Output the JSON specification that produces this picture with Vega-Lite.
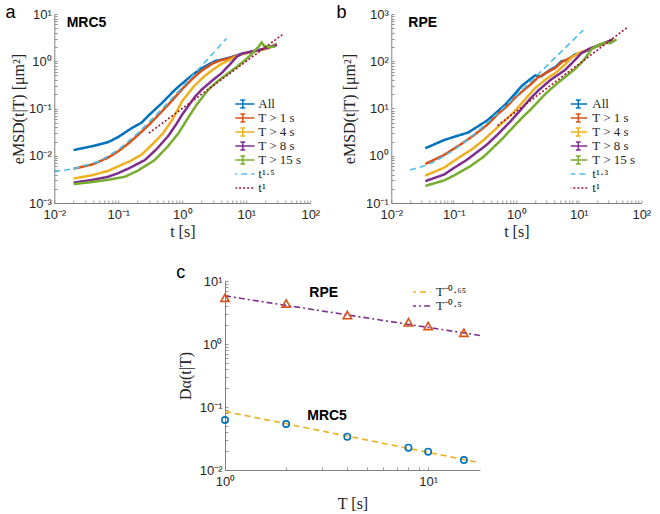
{
  "$schema": "https://vega.github.io/schema/vega-lite/v6.json",
  "background": "white",
  "padding": {"left": 5, "top": 4, "right": 5, "bottom": 3},
  "datasets": {
    "curvesA": [
      {"s":"All","t":0.02,"v":0.0132},{"s":"All","t":0.04,"v":0.016},{"s":"All","t":0.07,"v":0.0195},{"s":"All","t":0.1,"v":0.025},{"s":"All","t":0.16,"v":0.038},{"s":"All","t":0.23,"v":0.05},{"s":"All","t":0.3,"v":0.072},{"s":"All","t":0.48,"v":0.13},{"s":"All","t":0.77,"v":0.25},{"s":"All","t":1.0,"v":0.34},{"s":"All","t":1.4,"v":0.5},{"s":"All","t":2,"v":0.71},{"s":"All","t":3.2,"v":1.0},{"s":"All","t":5.3,"v":1.18},{"s":"All","t":8,"v":1.4},{"s":"All","t":11,"v":1.55},{"s":"All","t":15,"v":1.68},{"s":"All","t":22,"v":1.9},{"s":"All","t":30,"v":2.3},
      {"s":"T > 1 s","t":0.02,"v":0.0053},{"s":"T > 1 s","t":0.04,"v":0.0066},{"s":"T > 1 s","t":0.07,"v":0.0092},{"s":"T > 1 s","t":0.1,"v":0.0125},{"s":"T > 1 s","t":0.15,"v":0.019},{"s":"T > 1 s","t":0.2,"v":0.027},{"s":"T > 1 s","t":0.3,"v":0.045},{"s":"T > 1 s","t":0.5,"v":0.092},{"s":"T > 1 s","t":0.7,"v":0.15},{"s":"T > 1 s","t":1.0,"v":0.26},{"s":"T > 1 s","t":1.5,"v":0.45},{"s":"T > 1 s","t":2,"v":0.63},{"s":"T > 1 s","t":3,"v":0.9},{"s":"T > 1 s","t":4,"v":1.05},{"s":"T > 1 s","t":5.3,"v":1.15},{"s":"T > 1 s","t":8,"v":1.38},{"s":"T > 1 s","t":11,"v":1.53},{"s":"T > 1 s","t":15,"v":1.67},{"s":"T > 1 s","t":22,"v":1.9},{"s":"T > 1 s","t":30,"v":2.3},
      {"s":"T > 4 s","t":0.02,"v":0.0033},{"s":"T > 4 s","t":0.04,"v":0.0039},{"s":"T > 4 s","t":0.07,"v":0.0048},{"s":"T > 4 s","t":0.1,"v":0.006},{"s":"T > 4 s","t":0.15,"v":0.0076},{"s":"T > 4 s","t":0.23,"v":0.0105},{"s":"T > 4 s","t":0.35,"v":0.018},{"s":"T > 4 s","t":0.5,"v":0.03},{"s":"T > 4 s","t":0.7,"v":0.058},{"s":"T > 4 s","t":1.0,"v":0.145},{"s":"T > 4 s","t":1.5,"v":0.29},{"s":"T > 4 s","t":2.2,"v":0.48},{"s":"T > 4 s","t":3,"v":0.66},{"s":"T > 4 s","t":4.1,"v":0.88},{"s":"T > 4 s","t":5.9,"v":1.12},{"s":"T > 4 s","t":8,"v":1.38},{"s":"T > 4 s","t":11,"v":1.53},{"s":"T > 4 s","t":15,"v":1.67},{"s":"T > 4 s","t":22,"v":1.9},{"s":"T > 4 s","t":30,"v":2.3},
      {"s":"T > 8 s","t":0.02,"v":0.0027},{"s":"T > 8 s","t":0.04,"v":0.0031},{"s":"T > 8 s","t":0.07,"v":0.0036},{"s":"T > 8 s","t":0.1,"v":0.0043},{"s":"T > 8 s","t":0.15,"v":0.0055},{"s":"T > 8 s","t":0.26,"v":0.0081},{"s":"T > 8 s","t":0.4,"v":0.014},{"s":"T > 8 s","t":0.6,"v":0.026},{"s":"T > 8 s","t":0.8,"v":0.046},{"s":"T > 8 s","t":1.0,"v":0.075},{"s":"T > 8 s","t":1.58,"v":0.178},{"s":"T > 8 s","t":2,"v":0.25},{"s":"T > 8 s","t":3,"v":0.4},{"s":"T > 8 s","t":4.1,"v":0.56},{"s":"T > 8 s","t":5.5,"v":0.85},{"s":"T > 8 s","t":7.1,"v":1.25},{"s":"T > 8 s","t":8.5,"v":1.45},{"s":"T > 8 s","t":11.3,"v":1.58},{"s":"T > 8 s","t":15,"v":1.7},{"s":"T > 8 s","t":20,"v":1.9},{"s":"T > 8 s","t":30,"v":2.2},
      {"s":"T > 15 s","t":0.02,"v":0.0025},{"s":"T > 15 s","t":0.04,"v":0.0028},{"s":"T > 15 s","t":0.07,"v":0.0031},{"s":"T > 15 s","t":0.127,"v":0.0036},{"s":"T > 15 s","t":0.2,"v":0.0048},{"s":"T > 15 s","t":0.37,"v":0.0081},{"s":"T > 15 s","t":0.6,"v":0.016},{"s":"T > 15 s","t":0.87,"v":0.03},{"s":"T > 15 s","t":1.2,"v":0.06},{"s":"T > 15 s","t":1.67,"v":0.12},{"s":"T > 15 s","t":2.55,"v":0.25},{"s":"T > 15 s","t":3.5,"v":0.37},{"s":"T > 15 s","t":5.2,"v":0.556},{"s":"T > 15 s","t":7,"v":0.75},{"s":"T > 15 s","t":9.6,"v":1.06},{"s":"T > 15 s","t":12,"v":1.4},{"s":"T > 15 s","t":15.4,"v":2.0},{"s":"T > 15 s","t":17.4,"v":2.5},{"s":"T > 15 s","t":19,"v":2.1},{"s":"T > 15 s","t":22,"v":2.03},{"s":"T > 15 s","t":28,"v":2.03}
    ],
    "fitsA": [
      {"s":"t¹·⁵","t":0.01,"v":0.0046},{"s":"t¹·⁵","t":0.02,"v":0.0053},{"s":"t¹·⁵","t":0.05,"v":0.0076},{"s":"t¹·⁵","t":0.1,"v":0.0134},{"s":"t¹·⁵","t":0.2,"v":0.0296},{"s":"t¹·⁵","t":0.5,"v":0.103},{"s":"t¹·⁵","t":1,"v":0.284},{"s":"t¹·⁵","t":2,"v":0.8},{"s":"t¹·⁵","t":3,"v":1.46},{"s":"t¹·⁵","t":4,"v":2.24},{"s":"t¹·⁵","t":4.9,"v":3.05},
      {"s":"t¹","t":0.3,"v":0.03},{"s":"t¹","t":38,"v":3.8}
    ],
    "curvesB": [
      {"s":"All","t":0.035,"v":1.44},{"s":"All","t":0.07,"v":2.15},{"s":"All","t":0.1,"v":2.5},{"s":"All","t":0.17,"v":3.1},{"s":"All","t":0.35,"v":5.7},{"s":"All","t":0.66,"v":12},{"s":"All","t":1.0,"v":22},{"s":"All","t":1.22,"v":30},{"s":"All","t":1.6,"v":40},{"s":"All","t":2.0,"v":50},{"s":"All","t":2.5,"v":48},{"s":"All","t":3.25,"v":62},{"s":"All","t":4.2,"v":75},{"s":"All","t":5.3,"v":100},{"s":"All","t":6.5,"v":105},{"s":"All","t":8.7,"v":140},{"s":"All","t":11,"v":150},{"s":"All","t":15,"v":180},{"s":"All","t":20,"v":210},{"s":"All","t":28,"v":250},{"s":"All","t":35,"v":290},
      {"s":"T > 1 s","t":0.035,"v":0.67},{"s":"T > 1 s","t":0.07,"v":1.04},{"s":"T > 1 s","t":0.126,"v":1.7},{"s":"T > 1 s","t":0.2,"v":2.6},{"s":"T > 1 s","t":0.335,"v":4.4},{"s":"T > 1 s","t":0.5,"v":7.5},{"s":"T > 1 s","t":0.7,"v":11},{"s":"T > 1 s","t":1.0,"v":18},{"s":"T > 1 s","t":1.29,"v":24},{"s":"T > 1 s","t":1.68,"v":32},{"s":"T > 1 s","t":2.2,"v":45},{"s":"T > 1 s","t":2.54,"v":50},{"s":"T > 1 s","t":3.25,"v":60},{"s":"T > 1 s","t":4.2,"v":72},{"s":"T > 1 s","t":5.3,"v":95},{"s":"T > 1 s","t":7,"v":115},{"s":"T > 1 s","t":8.7,"v":135},{"s":"T > 1 s","t":11,"v":150},{"s":"T > 1 s","t":15,"v":180},{"s":"T > 1 s","t":20,"v":210},{"s":"T > 1 s","t":28,"v":250},{"s":"T > 1 s","t":35,"v":290},
      {"s":"T > 4 s","t":0.035,"v":0.38},{"s":"T > 4 s","t":0.07,"v":0.56},{"s":"T > 4 s","t":0.126,"v":0.95},{"s":"T > 4 s","t":0.2,"v":1.4},{"s":"T > 4 s","t":0.3,"v":2.15},{"s":"T > 4 s","t":0.5,"v":4.0},{"s":"T > 4 s","t":0.7,"v":6.0},{"s":"T > 4 s","t":1.0,"v":9.5},{"s":"T > 4 s","t":1.46,"v":17},{"s":"T > 4 s","t":2,"v":27},{"s":"T > 4 s","t":3,"v":42},{"s":"T > 4 s","t":4.2,"v":56},{"s":"T > 4 s","t":6,"v":85},{"s":"T > 4 s","t":7.7,"v":120},{"s":"T > 4 s","t":10,"v":150},{"s":"T > 4 s","t":15,"v":180},{"s":"T > 4 s","t":20,"v":210},{"s":"T > 4 s","t":28,"v":250},{"s":"T > 4 s","t":35,"v":290},
      {"s":"T > 8 s","t":0.035,"v":0.29},{"s":"T > 8 s","t":0.07,"v":0.4},{"s":"T > 8 s","t":0.1,"v":0.55},{"s":"T > 8 s","t":0.16,"v":0.81},{"s":"T > 8 s","t":0.335,"v":1.7},{"s":"T > 8 s","t":0.5,"v":2.8},{"s":"T > 8 s","t":0.79,"v":5.2},{"s":"T > 8 s","t":1.1,"v":8.5},{"s":"T > 8 s","t":1.66,"v":16},{"s":"T > 8 s","t":2.25,"v":24},{"s":"T > 8 s","t":3.5,"v":40},{"s":"T > 8 s","t":6,"v":65},{"s":"T > 8 s","t":8,"v":95},{"s":"T > 8 s","t":11.1,"v":150},{"s":"T > 8 s","t":15,"v":185},{"s":"T > 8 s","t":20,"v":215},{"s":"T > 8 s","t":28,"v":255},{"s":"T > 8 s","t":35,"v":290},
      {"s":"T > 15 s","t":0.035,"v":0.23},{"s":"T > 15 s","t":0.07,"v":0.3},{"s":"T > 15 s","t":0.1,"v":0.38},{"s":"T > 15 s","t":0.18,"v":0.59},{"s":"T > 15 s","t":0.3,"v":0.95},{"s":"T > 15 s","t":0.43,"v":1.5},{"s":"T > 15 s","t":0.6,"v":2.3},{"s":"T > 15 s","t":0.9,"v":4.1},{"s":"T > 15 s","t":1.3,"v":6.8},{"s":"T > 15 s","t":1.76,"v":10},{"s":"T > 15 s","t":2.88,"v":20},{"s":"T > 15 s","t":4.5,"v":34},{"s":"T > 15 s","t":6,"v":46},{"s":"T > 15 s","t":8.7,"v":68},{"s":"T > 15 s","t":12,"v":105},{"s":"T > 15 s","t":16,"v":180},{"s":"T > 15 s","t":20,"v":215},{"s":"T > 15 s","t":26,"v":250},{"s":"T > 15 s","t":32,"v":240},{"s":"T > 15 s","t":40,"v":290}
    ],
    "fitsB": [
      {"s":"t¹·³","t":0.02,"v":0.5},{"s":"t¹·³","t":0.035,"v":0.62},{"s":"t¹·³","t":0.05,"v":0.76},{"s":"t¹·³","t":0.1,"v":1.31},{"s":"t¹·³","t":0.2,"v":2.67},{"s":"t¹·³","t":0.5,"v":7.9},{"s":"t¹·³","t":1,"v":18.9},{"s":"t¹·³","t":2,"v":45.9},{"s":"t¹·³","t":5,"v":150},{"s":"t¹·³","t":10,"v":369},{"s":"t¹·³","t":11.8,"v":458},
      {"s":"t¹","t":0.5,"v":4.35},{"s":"t¹","t":60,"v":522}
    ],
    "pointsC": [
      {"cell":"RPE","T":1,"D":5.4},{"cell":"RPE","T":2,"D":4.4},{"cell":"RPE","T":4,"D":2.88},{"cell":"RPE","T":8,"D":2.21},{"cell":"RPE","T":10,"D":1.93},{"cell":"RPE","T":15,"D":1.51},
      {"cell":"MRC5","T":1,"D":0.0622},{"cell":"MRC5","T":2,"D":0.0537},{"cell":"MRC5","T":4,"D":0.0338},{"cell":"MRC5","T":8,"D":0.0226},{"cell":"MRC5","T":10,"D":0.0195},{"cell":"MRC5","T":15,"D":0.0144}
    ],
    "linesC": [
      {"s":"T⁻⁰·⁶⁵","T":1,"D":0.085},{"s":"T⁻⁰·⁶⁵","T":18,"D":0.013},
      {"s":"T⁻⁰·⁵","T":1,"D":5.8},{"s":"T⁻⁰·⁵","T":18,"D":1.367}
    ]
  },
  "center": true,
  "spacing": 25,
  "resolve": {"scale": {"stroke": "independent", "strokeDash": "independent"}, "legend": {"stroke": "independent", "strokeDash": "independent"}},
  "vconcat": [
    {
      "bounds": "flush",
      "spacing": 81,
      "resolve": {"scale": {"stroke": "independent", "strokeDash": "independent"}, "legend": {"stroke": "independent", "strokeDash": "independent"}},
      "hconcat": [
        {
          "width": 256, "height": 189,
          "title": {"text": "a", "anchor": "start", "frame": "bounds", "baseline": "alphabetic", "offset": -28, "dx": -5, "fontSize": 18, "fontWeight": "normal", "font": "Liberation Sans", "color": "#000"},
          "layer": [
            {
              "data": {"name": "curvesA"},
              "mark": {"type": "line", "strokeWidth": 2.5, "clip": true},
              "encoding": {
                "x": {"field": "t", "type": "quantitative", "scale": {"type": "log", "domain": [0.01, 100], "nice": false},
                  "axis": {"title": "t [s]", "labelPadding": 8, "titlePadding": 2, "values": [0.01,0.02,0.03,0.04,0.05,0.06,0.07,0.08,0.09,0.1,0.2,0.3,0.4,0.5,0.6,0.7,0.8,0.9,1,2,3,4,5,6,7,8,9,10,20,30,40,50,60,70,80,90,100],
                    "labelExpr": "abs(log(datum.value)/LN10 - round(log(datum.value)/LN10)) < 0.01 ? '10' + replace(replace(replace(replace(replace(''+round(log(datum.value)/LN10),'-','⁻'),'0','⁰'),'1','¹'),'2','²'),'3','³') : ''"}},
                "y": {"field": "v", "type": "quantitative", "scale": {"type": "log", "domain": [0.001, 10], "nice": false},
                  "axis": {"title": "eMSD(t|T) [μm²]", "titlePadding": 2, "values": [0.001,0.002,0.003,0.004,0.005,0.006,0.007,0.008,0.009,0.01,0.02,0.03,0.04,0.05,0.06,0.07,0.08,0.09,0.1,0.2,0.3,0.4,0.5,0.6,0.7,0.8,0.9,1,2,3,4,5,6,7,8,9,10],
                    "labelExpr": "abs(log(datum.value)/LN10 - round(log(datum.value)/LN10)) < 0.01 ? '10' + replace(replace(replace(replace(replace(''+round(log(datum.value)/LN10),'-','⁻'),'0','⁰'),'1','¹'),'2','²'),'3','³') : ''"}},
                "stroke": {"field": "s", "type": "nominal",
                  "scale": {"domain": ["All","T > 1 s","T > 4 s","T > 8 s","T > 15 s","t¹·⁵","t¹"], "range": ["#0072BD","#D95319","#EDB120","#7E2F8E","#77AC30","#4DBEEE","#A2142F"]},
                  "legend": {"title": null, "orient": "none", "legendX": 181, "legendY": 83, "symbolSize": 169, "clipHeight": 14, "symbolStrokeWidth": 1.5, "labelOffset": 8, "rowPadding": 0,
                    "encode": {"symbols": {"update": {"shape": {"signal": "substring(datum.value,0,1) == 't' ? 'M-1.8,0H1.8' : 'M-1.8,0H1.8M0,-0.6V0.6M-0.38,-0.6H0.38M-0.38,0.6H0.38'"}}}}}},
                "strokeDash": {"field": "s", "type": "nominal",
                  "scale": {"domain": ["All","T > 1 s","T > 4 s","T > 8 s","T > 15 s","t¹·⁵","t¹"], "range": [[1,0],[1,0],[1,0],[1,0],[1,0],[6,4],[2,2]]},
                  "legend": {"title": null, "orient": "none", "legendX": 181, "legendY": 83, "symbolSize": 169, "clipHeight": 14, "symbolStrokeWidth": 1.5, "labelOffset": 8, "rowPadding": 0,
                    "encode": {"symbols": {"update": {"shape": {"signal": "substring(datum.value,0,1) == 't' ? 'M-1.8,0H1.8' : 'M-1.8,0H1.8M0,-0.6V0.6M-0.38,-0.6H0.38M-0.38,0.6H0.38'"}}}}}}
              }
            },
            {
              "data": {"name": "fitsA"},
              "mark": {"type": "line", "strokeWidth": 1.6, "clip": true},
              "encoding": {
                "x": {"field": "t", "type": "quantitative"},
                "y": {"field": "v", "type": "quantitative"},
                "stroke": {"field": "s", "type": "nominal"},
                "strokeDash": {"field": "s", "type": "nominal"}
              }
            },
            {
              "data": {"values": [{}]},
              "mark": {"type": "text", "align": "left", "baseline": "middle", "fontWeight": "bold", "fontSize": 14, "font": "Liberation Sans", "color": "#000"},
              "encoding": {"x": {"datum": 0.0156}, "y": {"datum": 6.35}, "text": {"value": "MRC5"}}
            }
          ]
        },
        {
          "width": 250, "height": 189,
          "title": {"text": "b", "anchor": "start", "frame": "bounds", "baseline": "alphabetic", "offset": -28, "dx": -5, "fontSize": 18, "fontWeight": "normal", "font": "Liberation Sans", "color": "#000"},
          "layer": [
            {
              "data": {"name": "curvesB"},
              "mark": {"type": "line", "strokeWidth": 2.5, "clip": true},
              "encoding": {
                "x": {"field": "t", "type": "quantitative", "scale": {"type": "log", "domain": [0.01, 100], "nice": false},
                  "axis": {"title": "t [s]", "labelPadding": 8, "titlePadding": 2, "values": [0.01,0.02,0.03,0.04,0.05,0.06,0.07,0.08,0.09,0.1,0.2,0.3,0.4,0.5,0.6,0.7,0.8,0.9,1,2,3,4,5,6,7,8,9,10,20,30,40,50,60,70,80,90,100],
                    "labelExpr": "abs(log(datum.value)/LN10 - round(log(datum.value)/LN10)) < 0.01 ? '10' + replace(replace(replace(replace(replace(''+round(log(datum.value)/LN10),'-','⁻'),'0','⁰'),'1','¹'),'2','²'),'3','³') : ''"}},
                "y": {"field": "v", "type": "quantitative", "scale": {"type": "log", "domain": [0.1, 1000], "nice": false},
                  "axis": {"title": "eMSD(t|T) [μm²]", "titlePadding": 8, "values": [0.1,0.2,0.3,0.4,0.5,0.6,0.7,0.8,0.9,1,2,3,4,5,6,7,8,9,10,20,30,40,50,60,70,80,90,100,200,300,400,500,600,700,800,900,1000],
                    "labelExpr": "abs(log(datum.value)/LN10 - round(log(datum.value)/LN10)) < 0.01 ? '10' + replace(replace(replace(replace(replace(''+round(log(datum.value)/LN10),'-','⁻'),'0','⁰'),'1','¹'),'2','²'),'3','³') : ''"}},
                "stroke": {"field": "s", "type": "nominal",
                  "scale": {"domain": ["All","T > 1 s","T > 4 s","T > 8 s","T > 15 s","t¹·³","t¹"], "range": ["#0072BD","#D95319","#EDB120","#7E2F8E","#77AC30","#4DBEEE","#A2142F"]},
                  "legend": {"title": null, "orient": "none", "legendX": 179.5, "legendY": 83, "symbolSize": 169, "clipHeight": 14, "symbolStrokeWidth": 1.5, "labelOffset": 6.5, "rowPadding": 0,
                    "encode": {"symbols": {"update": {"shape": {"signal": "substring(datum.value,0,1) == 't' ? 'M-1.38,0H1.38' : 'M-1.38,0H1.38M0,-0.6V0.6M-0.38,-0.6H0.38M-0.38,0.6H0.38'"}}}}}},
                "strokeDash": {"field": "s", "type": "nominal",
                  "scale": {"domain": ["All","T > 1 s","T > 4 s","T > 8 s","T > 15 s","t¹·³","t¹"], "range": [[1,0],[1,0],[1,0],[1,0],[1,0],[6,4],[2,2]]},
                  "legend": {"title": null, "orient": "none", "legendX": 179.5, "legendY": 83, "symbolSize": 169, "clipHeight": 14, "symbolStrokeWidth": 1.5, "labelOffset": 6.5, "rowPadding": 0,
                    "encode": {"symbols": {"update": {"shape": {"signal": "substring(datum.value,0,1) == 't' ? 'M-1.38,0H1.38' : 'M-1.38,0H1.38M0,-0.6V0.6M-0.38,-0.6H0.38M-0.38,0.6H0.38'"}}}}}}
              }
            },
            {
              "data": {"name": "fitsB"},
              "mark": {"type": "line", "strokeWidth": 1.6, "clip": true},
              "encoding": {
                "x": {"field": "t", "type": "quantitative"},
                "y": {"field": "v", "type": "quantitative"},
                "stroke": {"field": "s", "type": "nominal"},
                "strokeDash": {"field": "s", "type": "nominal"}
              }
            },
            {
              "data": {"values": [{}]},
              "mark": {"type": "text", "align": "left", "baseline": "middle", "fontWeight": "bold", "fontSize": 14, "font": "Liberation Sans", "color": "#000"},
              "encoding": {"x": {"datum": 0.0187}, "y": {"datum": 636}, "text": {"value": "RPE"}}
            }
          ]
        }
      ]
    },
    {
      "width": 255, "height": 189,
      "title": {"text": "c", "anchor": "start", "frame": "bounds", "baseline": "alphabetic", "offset": -21, "dx": -1, "fontSize": 18, "fontWeight": "normal", "font": "Liberation Sans", "color": "#000"},
      "layer": [
        {
          "data": {"name": "linesC"},
          "mark": {"type": "line", "strokeWidth": 1.6, "clip": true},
          "encoding": {
            "x": {"field": "T", "type": "quantitative", "scale": {"type": "log", "domain": [1, 18], "nice": false},
              "axis": {"title": "T [s]", "labelPadding": 8, "titlePadding": 7, "values": [1,2,3,4,5,6,7,8,9,10],
                "labelExpr": "abs(log(datum.value)/LN10 - round(log(datum.value)/LN10)) < 0.01 ? '10' + replace(replace(replace(replace(replace(''+round(log(datum.value)/LN10),'-','⁻'),'0','⁰'),'1','¹'),'2','²'),'3','³') : ''"}},
            "y": {"field": "D", "type": "quantitative", "scale": {"type": "log", "domain": [0.01, 10], "nice": false},
              "axis": {"title": "Dα(t|T)", "titlePadding": 6, "values": [0.01,0.02,0.03,0.04,0.05,0.06,0.07,0.08,0.09,0.1,0.2,0.3,0.4,0.5,0.6,0.7,0.8,0.9,1,2,3,4,5,6,7,8,9,10],
                "labelExpr": "abs(log(datum.value)/LN10 - round(log(datum.value)/LN10)) < 0.01 ? '10' + replace(replace(replace(replace(replace(''+round(log(datum.value)/LN10),'-','⁻'),'0','⁰'),'1','¹'),'2','²'),'3','³') : ''"}},
            "stroke": {"field": "s", "type": "nominal",
              "scale": {"domain": ["T⁻⁰·⁶⁵","T⁻⁰·⁵"], "range": ["#EDB120","#7E2F8E"]},
              "legend": {"title": null, "orient": "none", "legendX": 188, "legendY": 4.5, "symbolSize": 169, "clipHeight": 13, "symbolStrokeWidth": 1.6, "labelOffset": 8, "rowPadding": 0,
                "encode": {"symbols": {"update": {"shape": {"value": "M-1.6,0H1.6"}}}}}},
            "strokeDash": {"field": "s", "type": "nominal",
              "scale": {"domain": ["T⁻⁰·⁶⁵","T⁻⁰·⁵"], "range": [[6,4],[6,3,2,3]]},
              "legend": {"title": null, "orient": "none", "legendX": 188, "legendY": 4.5, "symbolSize": 169, "clipHeight": 13, "symbolStrokeWidth": 1.6, "labelOffset": 8, "rowPadding": 0,
                "encode": {"symbols": {"update": {"shape": {"value": "M-1.6,0H1.6"}}}}}}
          }
        },
        {
          "data": {"name": "pointsC"},
          "transform": [{"filter": "datum.cell == 'RPE'"}],
          "mark": {"type": "point", "shape": "triangle-up", "size": 70, "filled": false, "stroke": "#D95319", "strokeWidth": 1.6, "opacity": 1},
          "encoding": {"x": {"field": "T", "type": "quantitative"}, "y": {"field": "D", "type": "quantitative"}}
        },
        {
          "data": {"name": "pointsC"},
          "transform": [{"filter": "datum.cell == 'MRC5'"}],
          "mark": {"type": "point", "shape": "circle", "size": 40, "filled": false, "stroke": "#0072BD", "strokeWidth": 1.6, "opacity": 1},
          "encoding": {"x": {"field": "T", "type": "quantitative"}, "y": {"field": "D", "type": "quantitative"}}
        },
        {
          "data": {"values": [{}]},
          "mark": {"type": "text", "align": "center", "baseline": "middle", "fontWeight": "bold", "fontSize": 14, "font": "Liberation Sans", "color": "#000"},
          "encoding": {"x": {"datum": 3.06}, "y": {"datum": 6.4}, "text": {"value": "RPE"}}
        },
        {
          "data": {"values": [{}]},
          "mark": {"type": "text", "align": "center", "baseline": "middle", "fontWeight": "bold", "fontSize": 14, "font": "Liberation Sans", "color": "#000"},
          "encoding": {"x": {"datum": 3.18}, "y": {"datum": 0.072}, "text": {"value": "MRC5"}}
        }
      ]
    }
  ],
  "config": {
    "view": {"stroke": null},
    "font": "Liberation Sans",
    "axis": {"domainColor": "#808080", "tickColor": "#808080", "tickSize": -3, "tickWidth": 0.8, "labelPadding": 6, "labelFont": "Liberation Sans", "labelFontSize": 13, "labelColor": "#262626", "titleFont": "Liberation Serif", "titleFontSize": 16, "titleFontWeight": "normal", "titleColor": "#262626", "grid": false, "labelOverlap": false, "labelFlush": false},
    "legend": {"labelFont": "Liberation Serif", "labelFontSize": 13, "labelColor": "#262626"}
  }
}
